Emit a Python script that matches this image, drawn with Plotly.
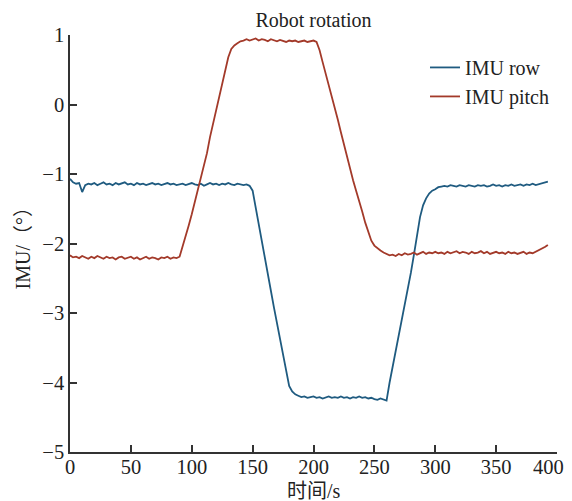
import plotly.graph_objects as go

# time axis (s), sampled every 2.5 s
time_s = [i * 2.5 for i in range(158)]

imu_row = [
    -1.07, -1.12, -1.14, -1.13, -1.26, -1.16, -1.14, -1.15, -1.13, -1.16,
    -1.14, -1.12, -1.15, -1.14, -1.16, -1.13, -1.15, -1.14, -1.12, -1.15,
    -1.14, -1.16, -1.13, -1.15, -1.14, -1.16, -1.14, -1.13, -1.15, -1.14,
    -1.16, -1.15, -1.13, -1.15, -1.14, -1.16, -1.15, -1.14, -1.16, -1.15,
    -1.13, -1.15, -1.16, -1.14, -1.17, -1.15, -1.13, -1.15, -1.14, -1.16,
    -1.14, -1.15, -1.13, -1.15, -1.16, -1.14, -1.15, -1.16, -1.15, -1.17,
    -1.24, -1.49, -1.74, -1.98, -2.22, -2.45, -2.68, -2.92, -3.15, -3.39,
    -3.62, -3.87, -4.05, -4.13, -4.17, -4.19, -4.21, -4.20, -4.22, -4.21,
    -4.20, -4.22, -4.21, -4.23, -4.21, -4.20, -4.22, -4.21, -4.22, -4.20,
    -4.22, -4.21, -4.23, -4.21, -4.22, -4.20, -4.22, -4.21, -4.23, -4.22,
    -4.24, -4.25, -4.23, -4.24, -4.26, -4.00, -3.78, -3.55, -3.33, -3.10,
    -2.87, -2.64, -2.42, -2.16, -1.88, -1.62, -1.45, -1.35, -1.28, -1.24,
    -1.22, -1.19, -1.18, -1.17, -1.18, -1.16, -1.17, -1.18, -1.16, -1.17,
    -1.18, -1.16, -1.17, -1.18, -1.16, -1.17, -1.16, -1.18, -1.17, -1.15,
    -1.17, -1.16, -1.18, -1.16, -1.17, -1.15, -1.17, -1.16, -1.15, -1.17,
    -1.15, -1.16, -1.14, -1.16, -1.15, -1.13, -1.12, -1.11,
]

imu_pitch = [
    -2.17, -2.20, -2.19, -2.21, -2.18, -2.20, -2.22, -2.19, -2.21, -2.18,
    -2.20, -2.22, -2.19, -2.21, -2.20, -2.23, -2.20, -2.19, -2.22, -2.21,
    -2.19, -2.22, -2.20, -2.23, -2.21, -2.19, -2.22, -2.20, -2.21, -2.23,
    -2.20, -2.21, -2.19, -2.22, -2.20, -2.21, -2.19, -2.05, -1.90, -1.74,
    -1.58, -1.41, -1.24, -1.06, -0.89, -0.70, -0.47, -0.27, -0.07, 0.12,
    0.32, 0.50, 0.68, 0.80, 0.85, 0.88, 0.91, 0.92, 0.94, 0.92,
    0.93, 0.95, 0.92, 0.94, 0.93, 0.91, 0.94, 0.92, 0.91, 0.93,
    0.92, 0.90, 0.92, 0.91, 0.92, 0.90, 0.91, 0.92, 0.90, 0.91,
    0.92, 0.90, 0.78, 0.61, 0.45, 0.28, 0.12, -0.05, -0.22, -0.40,
    -0.58, -0.76, -0.92, -1.09, -1.24, -1.38, -1.54, -1.70, -1.84, -1.96,
    -2.03, -2.07, -2.10, -2.13, -2.15, -2.17, -2.16, -2.18, -2.15, -2.17,
    -2.14, -2.16, -2.15, -2.13, -2.16, -2.14, -2.12, -2.15, -2.13, -2.14,
    -2.12, -2.14, -2.13, -2.15, -2.12, -2.14, -2.13, -2.11, -2.14, -2.12,
    -2.13, -2.15, -2.12, -2.14, -2.13, -2.11, -2.14, -2.12, -2.15, -2.13,
    -2.12, -2.14, -2.13, -2.15, -2.12, -2.14, -2.13, -2.15, -2.14, -2.12,
    -2.15, -2.13, -2.14, -2.12, -2.10, -2.08, -2.05, -2.02,
]

x_ticks = [0, 50, 100, 150, 200, 250, 300, 350, 400]
x_tick_labels = ["0", "50", "100", "150", "200", "250", "300", "350", "400"]
y_ticks = [1, 0, -1, -2, -3, -4, -5]

FONT = "Liberation Serif, Noto Sans CJK SC, serif"
TXT = "#222222"

# the last x label sits flush against the right page edge, so it is drawn
# as an annotation anchored on its right side (same value, same font)
x_tick_text = x_tick_labels[:-1] + [""]

fig = go.Figure()
fig.add_trace(go.Scatter(x=time_s, y=imu_row, mode="lines", name="IMU row",
                         line=dict(color="#1f5b80", width=1.8)))
fig.add_trace(go.Scatter(x=time_s, y=imu_pitch, mode="lines", name="IMU pitch",
                         line=dict(color="#a33a2a", width=1.8)))

axis_common = dict(
    showline=True, linecolor="#333333", linewidth=1.5,
    ticks="inside", ticklen=7, tickwidth=1.5, tickcolor="#333333",
    showgrid=False, zeroline=False, mirror=False, automargin=False,
    ticklabeloverflow="allow",
    tickfont=dict(family=FONT, size=20.5, color=TXT),
)

fig.update_layout(
    width=564, height=493,
    margin=dict(l=62, r=15, t=27, b=49),
    paper_bgcolor="white", plot_bgcolor="white",
    font=dict(family=FONT, size=20, color=TXT),
    title=dict(text="Robot rotation", x=0.5, xref="paper", xanchor="center",
               y=0.9757, yanchor="middle",
               font=dict(family=FONT, size=20, color=TXT)),
    xaxis=dict(range=[0, 400], tickvals=x_ticks, ticktext=x_tick_text,
               ticklabelstandoff=-4, **axis_common),
    yaxis=dict(range=[-5, 1], tickvals=y_ticks, **axis_common),
    legend=dict(x=0.729, y=0.969, xanchor="left", yanchor="top",
                bgcolor="rgba(0,0,0,0)", borderwidth=0,
                font=dict(family=FONT, size=20, color=TXT),
                tracegroupgap=0),
    showlegend=True,
    annotations=[
        dict(text=x_tick_labels[-1], xref="x", yref="paper",
             x=x_ticks[-1], y=0, xanchor="right", yanchor="middle",
             xshift=9, yshift=-15, showarrow=False,
             font=dict(family=FONT, size=20.5, color=TXT)),
        dict(text="时间/s", xref="paper", yref="paper", x=0.5, y=0,
             xanchor="center", yanchor="top", yshift=-26, showarrow=False,
             font=dict(family=FONT, size=20, color=TXT)),
        dict(text="IMU/（°）", xref="paper", yref="paper", x=0, y=0.5,
             xanchor="center", yanchor="middle", xshift=-48, textangle=-90,
             showarrow=False, font=dict(family=FONT, size=20, color=TXT)),
    ],
)

fig.write_html("out.html")
